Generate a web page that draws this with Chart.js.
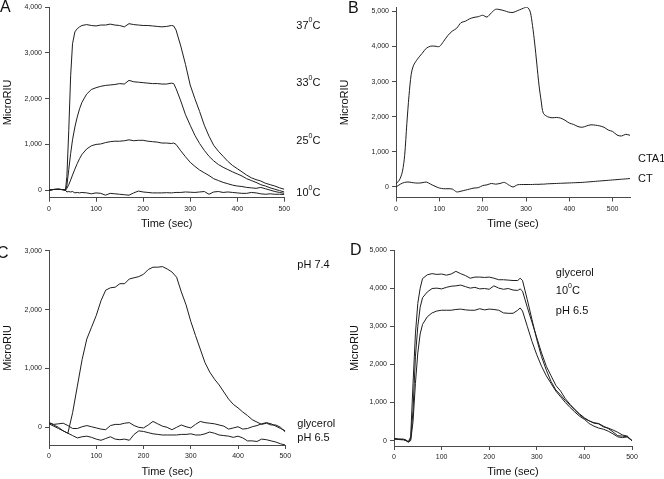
<!DOCTYPE html>
<html>
<head>
<meta charset="utf-8">
<script src="https://cdn.jsdelivr.net/npm/chart.js@4.4.1/dist/chart.umd.min.js"></script>
<style>
    body { margin: 0; background: #fff; }
    canvas { position: absolute; }
</style>
</head>
<body>
<canvas id="chart-a" width="340" height="240" style="left:0;top:0"></canvas>
<canvas id="chart-b" width="332" height="240" style="left:332px;top:0"></canvas>
<canvas id="chart-c" width="340" height="239" style="left:0;top:240px"></canvas>
<canvas id="chart-d" width="332" height="239" style="left:332px;top:240px"></canvas>
<script>
// ---- data ----
const timeTicks = [0, 100, 200, 300, 400, 500];

// A: temperature
const timeA = [0,10,20,30,35,38,42,46,50,55,60,65,70,
    80,90,100,110,120,130,140,150,160,170,180,190,200,210,220,230,240,250,260,
    265,
    270,280,290,300,310,320,330,340,350,360,370,380,390,400,410,420,430,440,450,460,470,480,490,500];
const riu37 = [0,15,20,10,0,300,1300,2500,3200,3460,3530,3570,3600,
    3620,3600,3590,3610,3610,3630,3610,3600,3570,3640,3620,3610,3600,3600,3590,3580,3570,3580,3600,
    3590,
    3500,3150,2750,2300,2000,1720,1420,1180,980,850,740,630,540,470,400,330,270,230,200,150,120,90,50,20];
const riu33 = [0,15,20,10,0,100,450,800,1100,1380,1600,1780,1920,
    2100,2200,2240,2270,2290,2300,2310,2330,2320,2400,2370,2360,2350,2340,2330,2330,2320,2320,2340,
    2330,
    2220,1950,1650,1420,1200,1020,870,740,640,560,500,450,400,355,310,250,210,170,120,90,50,20,-10,-40];
const riu25 = [0,15,20,10,0,40,120,220,330,460,580,690,780,
    900,970,1000,1010,1040,1060,1070,1070,1080,1100,1080,1090,1090,1070,1060,1050,1030,1030,1020,
    1030,
    1000,860,730,610,520,440,380,320,250,210,170,140,110,90,80,60,50,40,60,30,0,-30,-50,-70];
const riu10 = [0,15,20,10,0,-40,-30,-40,-30,-60,-50,-60,-50,
    -60,-80,-60,-70,-110,-70,-80,-90,-100,-110,-60,-20,-40,-50,-60,-60,-60,-55,-60,
    -55,
    -50,-50,-40,-45,-50,-40,-30,-90,-40,-30,-50,-40,-50,-60,-70,-70,-50,-60,-80,-90,-80,-90,-90,-95];
const labelsA = ['37{0}C', '33{0}C', '25{0}C', '10{0}C'];
const yTicksA = [0, 1000, 2000, 3000, 4000];

// B: CTA1 vs CT
const timeB = [0,5,10,15,20,25,30,35,40,
    50,60,70,80,90,100,110,120,130,140,150,160,170,180,190,200,210,220,230,240,250,260,270,280,290,300,
    305,310,315,320,325,330,335,340,
    350,360,370,380,390,400,410,420,430,440,450,460,470,480,490,500,510,520,530,540];
const riuCTA1 = [100,150,250,450,900,1800,2600,3200,3450,
    3650,3800,3950,4010,4010,4000,4150,4320,4440,4520,4680,4720,4790,4830,4850,4890,4840,4960,5060,5050,5020,4980,4970,5020,5070,5120,
    5100,4980,4600,4100,3500,2900,2450,2100,
    2000,1970,1980,1960,1900,1820,1780,1720,1700,1740,1770,1760,1740,1700,1620,1580,1480,1450,1500,1470];
const riuCT = [0,40,80,110,130,140,140,130,120,
    110,120,140,80,20,-30,-50,-50,-60,-140,-120,-90,-60,-30,-20,40,60,100,80,100,130,60,0,60,70,70,
    70,70,70,75,75,75,80,80,
    90,95,100,105,110,115,120,125,130,140,150,160,170,180,190,200,210,220,230,240];
const labelsB = ['CTA1', 'CT'];
const yTicksB = [0, 1000, 2000, 3000, 4000, 5000];

// C: pH
const timeC = [0,10,20,30,40,50,60,70,80,90,100,110,120,130,140,150,160,170,180,190,200,
    210,220,230,240,250,260,270,280,290,300,310,320,330,340,350,360,370,380,390,400,
    410,420,430,440,450,460,470,480,490,500];
const riuPH74 = [80,40,0,-60,-100,250,700,1150,1500,1700,1900,2150,2330,2370,2380,2440,2440,2520,2540,2560,2600,
    2680,2720,2720,2730,2690,2640,2550,2300,2080,1800,1560,1330,1100,940,820,720,600,480,390,330,
    260,200,130,90,50,70,40,40,0,-80];
const riuGlycerolC = [80,50,60,70,30,-20,-20,10,30,10,-10,-30,-40,30,50,50,70,80,30,0,-10,
    40,100,60,20,0,-40,0,40,10,-10,50,100,80,70,60,40,20,-30,-10,10,
    -30,-20,10,30,60,80,60,20,-20,-60];
const riuPH65C = [60,20,-20,-60,-100,-140,-180,-160,-150,-170,-200,-220,-190,-160,-200,-210,-200,-220,-120,-60,-70,
    -90,-110,-120,-130,-130,-130,-130,-120,-120,-110,-130,-130,-110,-80,-100,-130,-140,-150,-170,-150,
    -180,-230,-230,-240,-200,-210,-230,-250,-280,-300];
const labelsC = ['pH 7.4', 'glycerol', 'pH 6.5'];
const yTicksC = [0, 1000, 2000, 3000];

// D: glycerol / 10C / pH 6.5
const timeD = [0,10,20,25,30,35,40,45,50,55,60,
    70,80,90,100,110,120,130,140,150,160,170,180,190,200,210,220,230,240,250,260,
    265,
    270,280,290,300,310,320,330,340,350,360,370,380,390,400,410,420,430,440,450,460,470,480,490,500];
const riuGlycerolD = [60,40,40,20,-30,100,1500,2800,3600,4000,4250,
    4350,4380,4360,4370,4340,4370,4440,4380,4330,4260,4290,4290,4280,4290,4260,4220,4220,4210,4200,4200,
    4260,
    4200,3700,3170,2650,2200,1850,1550,1330,1200,1050,930,800,680,580,520,470,450,380,320,230,130,120,100,0];
const riu10D = [50,40,30,10,-30,30,800,2200,3000,3500,3750,
    3900,3990,4000,3980,4020,4050,4060,4080,4040,4000,4020,3980,3990,3970,4060,4000,3970,3990,3950,3940,
    3980,
    3920,3500,3100,2700,2300,1950,1700,1450,1300,1100,950,820,700,600,520,460,440,360,330,280,220,150,120,0];
const riuPH65D = [40,30,20,0,-40,0,500,1500,2300,2800,3050,
    3250,3350,3400,3420,3420,3420,3440,3450,3430,3420,3420,3460,3430,3450,3440,3420,3350,3340,3340,3420,
    3480,
    3400,3000,2600,2250,1950,1700,1500,1300,1150,1000,870,750,640,560,450,380,330,300,250,180,100,80,100,0];
const labelsD = ['glycerol', '10{0}C', 'pH 6.5'];
const yTicksD = [0, 1000, 2000, 3000, 4000, 5000];

// ---- drawing ----
const fontFamily = '"Liberation Sans", Arial, Helvetica, sans-serif';
const axisColor = '#4a4a4a';
const lineColor = '#1e1e1e';

// "37{0}C" -> 37 with a raised small 0, then C
function drawLabel(ctx, text, x, y) {
    let parts = text.split(/[{}]/);
    parts.forEach(function (part, i) {
        if (i % 2 === 1) {
            ctx.font = '7px ' + fontFamily;
            ctx.fillText(part, x, y - 5);
        } else {
            ctx.font = '11px ' + fontFamily;
            ctx.fillText(part, x, y);
        }
        x += ctx.measureText(part).width;
    });
}

const panelText = {
    id: 'panelText',
    afterDraw: function (chart, args, opts) {
        let ctx = chart.ctx;
        let area = chart.chartArea;
        ctx.save();
        ctx.fillStyle = '#111';
        ctx.textBaseline = 'top';
        ctx.font = '16px ' + fontFamily;
        ctx.fillText(opts.letter, opts.letterX, opts.letterY);
        ctx.textBaseline = 'middle';
        opts.labels.forEach(function (text, i) {
            let x = opts.labelTime == null ? area.right + opts.gap : chart.scales.x.getPixelForValue(opts.labelTime);
            let y = chart.scales.y.getPixelForValue(opts.labelValues[i]);
            drawLabel(ctx, text, x, y);
        });
        ctx.restore();
    }
};

function buildChart(canvasId, panel) {
    let ctx = document.getElementById(canvasId).getContext('2d');
    let datasets = panel.series.map(function (values) {
        return {
            data: panel.times.map(function (t, i) { return {x: t, y: values[i]}; }),
            borderColor: lineColor,
            borderWidth: 1,
            pointRadius: 0,
            fill: false,
            tension: panel.tension || 0
        };
    });
    let tickFont = {family: fontFamily, size: 7};
    let titleFont = {family: fontFamily, size: 11};

    return new Chart(ctx, {
        type: 'line',
        data: {datasets: datasets},
        plugins: [panelText],
        options: {
            responsive: false,
            animation: false,
            events: [],
            layout: {padding: panel.padding},
            plugins: {
                legend: {display: false},
                tooltip: {enabled: false},
                panelText: panel.text
            },
            scales: {
                x: {
                    type: 'linear',
                    min: 0,
                    max: panel.xMax,
                    afterBuildTicks: function (axis) {
                        axis.ticks = timeTicks.map(function (v) { return {value: v}; });
                    },
                    afterFit: function (axis) { axis.height = panel.xAxisHeight; },
                    grid: {drawOnChartArea: false, tickLength: 4, color: axisColor},
                    border: {color: axisColor},
                    ticks: {font: tickFont, color: '#222', padding: 3, maxRotation: 0, autoSkip: false},
                    title: {display: true, text: 'Time (sec)', font: titleFont, color: '#111', padding: 0}
                },
                y: {
                    min: panel.yMin,
                    max: panel.yMax,
                    afterBuildTicks: function (axis) {
                        axis.ticks = panel.yTicks.map(function (v) { return {value: v}; });
                    },
                    afterFit: function (axis) { axis.width = panel.yAxisWidth; },
                    grid: {drawOnChartArea: false, tickLength: 4, color: axisColor},
                    border: {color: axisColor},
                    ticks: {
                        font: tickFont, color: '#222', padding: 3, autoSkip: false,
                        callback: function (v) { return v.toLocaleString('en-US'); }
                    },
                    title: {display: true, text: 'MicroRIU', font: titleFont, color: '#111', padding: 0}
                }
            }
        }
    });
}

buildChart('chart-a', {
    times: timeA,
    series: [riu37, riu33, riu25, riu10],
    xMax: 500, yMin: -165, yMax: 4000, yTicks: yTicksA,
    padding: {left: 1.4, top: 4, right: 55.7, bottom: 9.4},
    yAxisWidth: 47.6, xAxisHeight: 32.9,
    text: {letter: 'A', letterX: 0, letterY: 0, labels: labelsA, labelValues: [3600, 2350, 1070, -60], gap: 12}
});

buildChart('chart-b', {
    times: timeB,
    series: [riuCTA1, riuCT],
    tension: 0.3,
    xMax: 540, yMin: -300, yMax: 5120, yTicks: yTicksB,
    padding: {left: 6.7, top: 4, right: 34, bottom: 9.4},
    yAxisWidth: 57.3, xAxisHeight: 33.1,
    text: {letter: 'B', letterX: 16, letterY: 1, labels: labelsB, labelValues: [800, 230], gap: 8}
});

buildChart('chart-c', {
    times: timeC,
    series: [riuPH74, riuGlycerolC, riuPH65C],
    xMax: 500, yMin: -300, yMax: 3000, yTicks: yTicksC,
    padding: {left: 0.9, top: 10.7, right: 54.7, bottom: 0.7},
    yAxisWidth: 48.1, xAxisHeight: 33.3,
    text: {letter: 'C', letterX: -3, letterY: 6, labels: labelsC, labelValues: [2755, 56, -182], gap: 12}
});

buildChart('chart-d', {
    times: timeD,
    series: [riuGlycerolD, riu10D, riuPH65D],
    xMax: 500, yMin: -140, yMax: 5000, yTicks: yTicksD,
    padding: {left: 16.1, top: 10, right: 32, bottom: 0.7},
    yAxisWidth: 45.9, xAxisHeight: 32.3,
    text: {letter: 'D', letterX: 18, letterY: 3, labels: labelsD, labelValues: [4400, 3930, 3400], labelTime: 340}
});
</script>
</body>
</html>
